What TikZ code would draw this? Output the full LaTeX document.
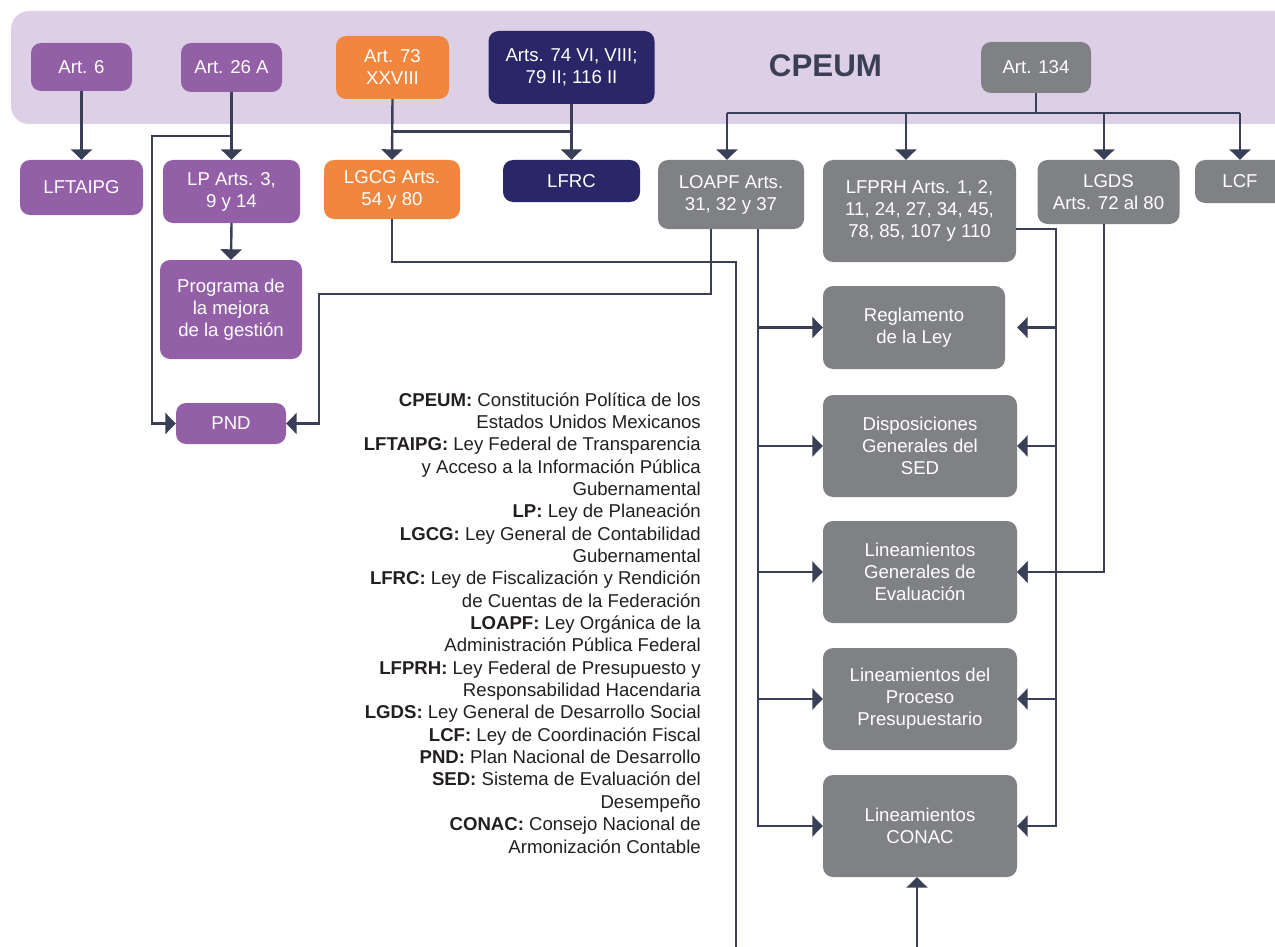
\documentclass[tikz,border=0pt]{standalone}
\usepackage{fontspec}
\setmainfont{Liberation Sans}
\usetikzlibrary{arrows.meta,calc}
\definecolor{bandC}{HTML}{DDD0E6}
\definecolor{purpC}{HTML}{9360A7}
\definecolor{orngC}{HTML}{F1873F}
\definecolor{navyC}{HTML}{2A2768}
\definecolor{grayC}{HTML}{808185}
\definecolor{lineC}{HTML}{3A3F58}
\definecolor{headC}{HTML}{3B3F55}
\definecolor{textC}{HTML}{231F20}
\begin{document}
\begin{tikzpicture}[x=1pt,y=-1pt,
  box/.style={rounded corners=10pt, text=white, align=center, inner sep=0pt,
              font=\fontsize{18.6}{22}\selectfont},
  sz/.style 2 args={minimum width=#1pt, minimum height=#2pt},
  purp/.style={fill=purpC}, orng/.style={fill=orngC},
  navy/.style={fill=navyC}, gray/.style={fill=grayC},
  line/.style={draw=lineC, line width=2.4pt},
  arr/.style={line, -{Triangle[length=10.5pt,width=21pt]}}]
\useasboundingbox (0,0) rectangle (1275,947);
\clip (0,0) rectangle (1275,947);

% constitution band
\fill[bandC, rounded corners=18pt] (11,11) rectangle (1300,124);
\node[font=\fontsize{31.3}{36}\selectfont\bfseries, text=headC] (cpeum) at (825.5,66) {CPEUM};

% articles of the constitution
\node[box,purp,sz={101}{48}] (art6)   at (81.5,67)  {Art. 6};
\node[box,purp,sz={101}{49}] (art26)  at (231.5,67.5) {Art. 26 A};
\node[box,orng,sz={113}{63}] (art73)  at (392.5,67.5) {Art. 73\\XXVIII};
\node[box,navy,sz={166}{73}] (art74)  at (571.5,67.5) {Arts. 74 VI, VIII;\\79 II; 116 II};
\node[box,gray,sz={110}{51}] (art134) at (1036,67.5) {Art. 134};

% laws
\node[box,purp,sz={123}{55}]  (lftaipg) at (81.5,187.5) {LFTAIPG};
\node[box,purp,sz={137}{63}]  (lp)      at (231.5,191.5) {LP Arts. 3,\\9 y 14};
\node[box,orng,sz={136}{59}]  (lgcg)    at (392,189.5) {LGCG Arts.\\54 y 80};
\node[box,navy,sz={137}{42}]  (lfrc)    at (571.5,181) {LFRC};
\node[box,gray,sz={146}{69}]  (loapf)   at (731,194.5) {LOAPF Arts.\\31, 32 y 37};
\node[box,gray,sz={193}{102}] (lfprh)   at (919.5,211) {LFPRH Arts. 1, 2,\\11, 24, 27, 34, 45,\\78, 85, 107 y 110};
\node[box,gray,sz={142}{64}]  (lgds)    at (1108.5,192) {LGDS\\Arts. 72 al 80};
\node[box,gray,sz={90}{43}]   (lcf)     at (1240,181.5) {LCF};

% planning
\node[box,purp,sz={142}{99}] (prog) at (231,309.5) {Programa de\\la mejora\\de la gestión};
\node[box,purp,sz={110}{41}] (pnd)  at (231,423.5) {PND};

% regulations
\node[box,gray,sz={182}{83}]  (reg)   at (914,327.5) {Reglamento\\de la Ley};
\node[box,gray,sz={194}{102}] (disp)  at (920,446) {Disposiciones\\Generales del\\SED};
\node[box,gray,sz={194}{102}] (lge)   at (920,572) {Lineamientos\\Generales de\\Evaluación};
\node[box,gray,sz={194}{102}] (lpp)   at (920,699) {Lineamientos del\\Proceso\\Presupuestario};
\node[box,gray,sz={194}{102}] (conac) at (920,826) {Lineamientos\\CONAC};

% glossary
\node[anchor=base east, inner sep=0pt, text=textC] (gloss) at (701,406)
 {\parbox[t]{400pt}{\raggedleft\fontsize{18.6}{22.35}\selectfont
  \textbf{CPEUM:} Constitución Política de los\\
  Estados Unidos Mexicanos\\
  \textbf{LFTAIPG:} Ley Federal de Transparencia\\
  y Acceso a la Información Pública\\
  Gubernamental\\
  \textbf{LP:} Ley de Planeación\\
  \textbf{LGCG:} Ley General de Contabilidad\\
  Gubernamental\\
  \textbf{LFRC:} Ley de Fiscalización y Rendición\\
  de Cuentas de la Federación\\
  \textbf{LOAPF:} Ley Orgánica de la\\
  Administración Pública Federal\\
  \textbf{LFPRH:} Ley Federal de Presupuesto y\\
  Responsabilidad Hacendaria\\
  \textbf{LGDS:} Ley General de Desarrollo Social\\
  \textbf{LCF:} Ley de Coordinación Fiscal\\
  \textbf{PND:} Plan Nacional de Desarrollo\\
  \textbf{SED:} Sistema de Evaluación del\\
  Desempeño\\
  \textbf{CONAC:} Consejo Nacional de\\
  Armonización Contable}};

% constitution to laws
\draw[arr] (art6.south) -- (lftaipg.north);
\draw[arr] (art26.south) -- (lp.north);
\draw[arr] (art26.south |- 0,136) -- (152,136) |- (pnd.west);
\draw[arr] (lp.south) -- (prog.north);
\draw[arr] (art73.south) -- (lgcg.north);
\draw[arr] (art74.south) -- (lfrc.north);
\draw[line] (art73.south |- 0,131.5) -- (art74.south |- 0,131.5);

% article 134 bus
\draw[line] (art134.south) -- (art134.south |- 0,113);
\draw[line] (727,113) -- (1240,113);
\draw[arr] (727,113) -- (727,0 |- loapf.north);
\draw[arr] (906,113) -- (906,0 |- lfprh.north);
\draw[arr] (1104,113) -- (1104,0 |- lgds.north);
\draw[arr] (1240,113) -- (lcf.north);

% LGCG long connector
\draw[line] (lgcg.south) |- (736,262) -- (736,960);

% LOAPF connectors
\draw[arr] (711,0 |- loapf.south) |- (319,294) |- (pnd.east);
\draw[arr] (758,0 |- loapf.south) |- (conac.west);
\foreach \b in {reg,disp,lge,lpp}
  \draw[arr] (758,0 |- \b.west) -- (\b.west);

% LFPRH connectors
\draw[arr] (lfprh.east |- 0,229) -| (1056,300) |- (conac.east);
\draw[arr] (1056,0 |- reg.east) -- (conac.east |- reg.east);
\foreach \b in {disp,lge,lpp}
  \draw[arr] (1056,0 |- \b.east) -- (\b.east);

% LGDS connector
\draw[arr] (1104,0 |- lgds.south) |- (lge.east);

% incoming from below
\draw[arr] (917,960) -- (917,0 |- conac.south);
\end{tikzpicture}
\end{document}
